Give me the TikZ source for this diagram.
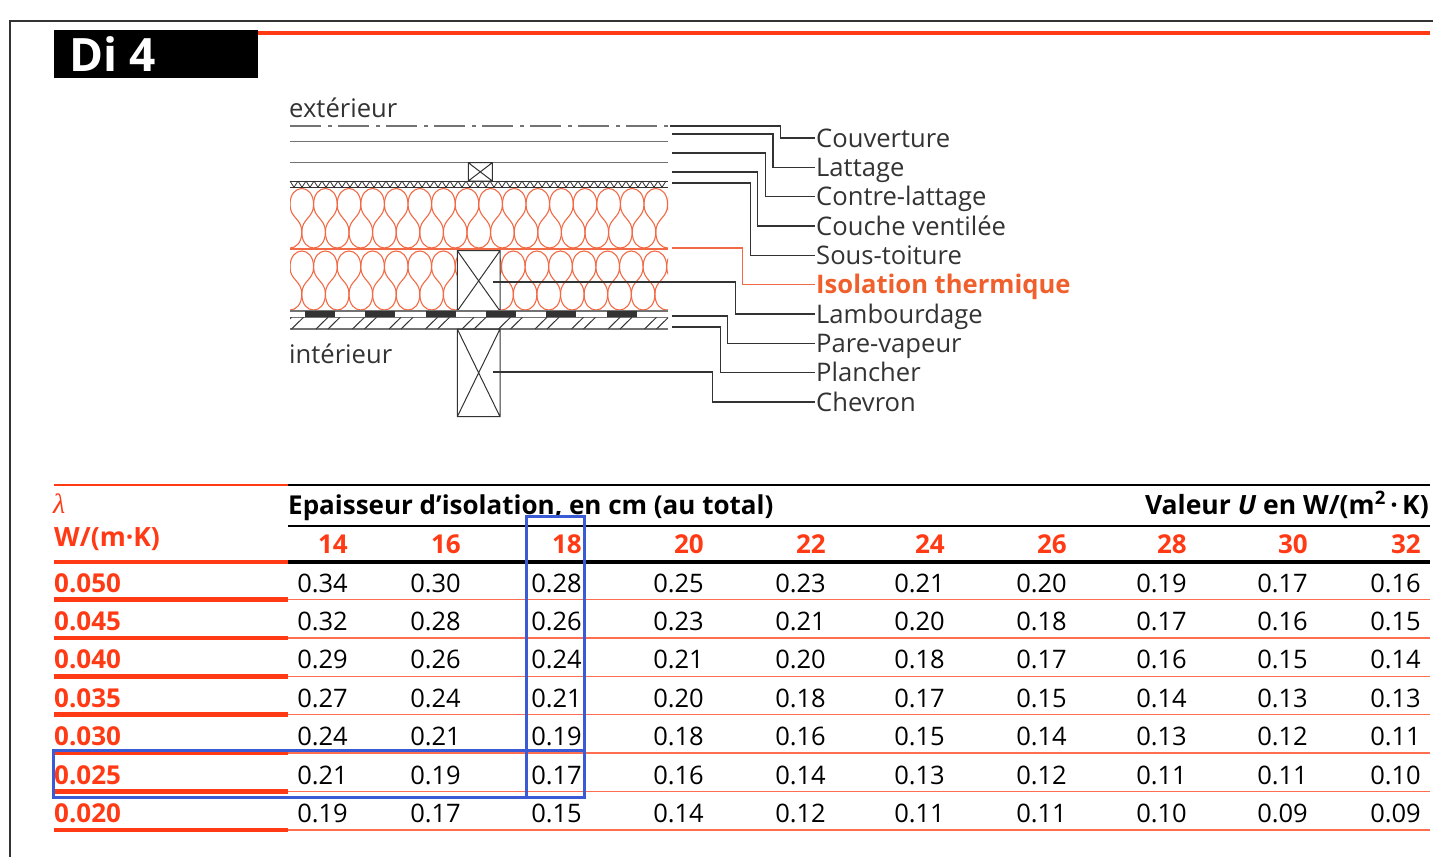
\documentclass[tikz,border=0pt]{standalone}
\usepackage{fontspec}
\setmainfont{Open Sans}
\newfontfamily\lamfont{Liberation Serif}
\usetikzlibrary{positioning}
\definecolor{TableRed}{HTML}{FF3A14}
\definecolor{RowRed}{HTML}{FF6E50}
\definecolor{InsulRed}{HTML}{F26A45}
\definecolor{LabelRed}{HTML}{F0602D}
\definecolor{MarkBlue}{HTML}{3B5BD6}
\definecolor{LineGrey}{HTML}{333333}

\tikzset{
  layer/.style={draw=black!55, line width=1.2pt},
  timber/.style={draw=LineGrey, line width=1pt},
  batt/.style={draw=InsulRed, line width=1.1pt},
  leader/.style={draw=LineGrey, line width=1.1pt},
  lbl/.style={anchor=west, inner sep=1pt, text=LineGrey, text height=23.5pt, text depth=5.2pt,
    font=\fontsize{25.6}{28}\selectfont},
  head/.style={anchor=base east, inner sep=0pt, text=TableRed, font=\bfseries\fontsize{26}{28}\selectfont},
  lamnum/.style={anchor=base west, inner sep=0pt, text=TableRed, font=\bfseries\fontsize{26}{28}\selectfont},
  num/.style={anchor=base east, inner sep=0pt, font=\fontsize{25.5}{28}\selectfont}
}

% timber cross-section with its X
\newcommand{\timberbox}[4]{%
  \draw[timber] (#1,#2) rectangle (#3,#4) (#1,#2) -- (#3,#4) (#1,#4) -- (#3,#2);}

% insulation batt: start x, top, bottom, last lobe
\newcommand{\battlayer}[4]{%
  \pgfmathsetmacro{\bw}{23.6}
  \pgfmathsetmacro{\ry}{16}
  \pgfmathsetmacro{\bm}{(#2+#3)/2}
  \foreach \bk in {-1,...,#4}{
    \pgfmathsetmacro{\bx}{#1+\bk*\bw}
    \draw[batt] (\bx,#2+\ry) .. controls (\bx,#2-\ry/3) and (\bx+\bw,#2-\ry/3) .. (\bx+\bw,#2+\ry)
      .. controls (\bx+\bw,\bm) and (\bx+\bw/2,\bm) .. (\bx+\bw/2,#3-\ry)
      .. controls (\bx+\bw/2,#3+\ry/3) and (\bx+1.5*\bw,#3+\ry/3) .. (\bx+1.5*\bw,#3-\ry)
      .. controls (\bx+1.5*\bw,\bm) and (\bx+\bw,\bm) .. (\bx+\bw,#2+\ry);
  }}

\def\colx{{348,461,582,704,826,945,1067,1187,1308,1421}}

\begin{document}
\begin{tikzpicture}[x=1pt,y=-1pt]
\useasboundingbox (0,0) rectangle (1433,857);

% frame and title
\draw[LineGrey, line width=1.5pt] (10,857) -- (10,21) -- (1433,21);
\node[fill=black, minimum width=204pt, minimum height=48pt, anchor=north west, inner sep=0pt] (titlebox) at (54,30) {};
\node[anchor=base west, inner sep=0pt, text=white, font=\bfseries\fontsize{46}{50}\selectfont] (title) at (69,71) {Di 4};
\draw[TableRed, line width=4pt] (258,33) -- (1430,33);

% --- roof section ---
\node[anchor=base west, inner sep=0pt, text=LineGrey, font=\fontsize{25.6}{28}\selectfont] (ext) at (289,117.5) {extérieur};
\node[anchor=base west, inner sep=0pt, text=LineGrey, font=\fontsize{25.6}{28}\selectfont] (int) at (289,363) {intérieur};

\draw[layer, dash pattern=on 31pt off 7pt on 4pt off 6pt] (290,126) -- (668,126);
\draw[layer] (290,141.7) -- (668,141.7);
\draw[layer] (290,162.7) -- (668,162.7);
\timberbox{468.3}{162.7}{492.3}{181}

% under-roof membrane
\draw[timber] (290,181) -- (668,181) (290,187.3) -- (668,187.3);
\foreach \i in {0,...,46}
  \draw[timber, line width=0.8pt] (290+8*\i,181) -- (294+8*\i,187.3) -- (298+8*\i,181);

% insulation, two layers
\begin{scope}
  \clip (290,187.3) rectangle (668,249);
  \battlayer{290}{188.5}{248}{16}
\end{scope}
\draw[batt] (290,249) -- (668,249);
\begin{scope}
  \clip (290,249) rectangle (457.3,311);
  \battlayer{290}{251}{310}{7}
\end{scope}
\begin{scope}
  \clip (500,249) rectangle (668,311);
  \battlayer{501.5}{251}{310}{7}
\end{scope}
\timberbox{457.3}{250.7}{500}{311}

% vapour barrier and floor boards
\draw[layer] (290,311) -- (668,311) (290,317.3) -- (668,317.3) (290,329) -- (668,329);
\foreach \j in {0,...,5}
  \fill[LineGrey] (305+60.3*\j,311) rectangle ++(30,6.3);
\begin{scope}
  \clip (290,317.3) rectangle (668,329);
  \foreach \j in {-1,...,9}
    \draw[timber] (316+36.5*\j,329) -- ++(12,-11.7) (328+36.5*\j,329) -- ++(12,-11.7);
\end{scope}
\timberbox{457.3}{329}{500}{416.7}

% leader start points
\coordinate (s-cou) at (670,126);
\coordinate (s-lat) at (672,134);
\coordinate (s-con) at (672,153);
\coordinate (s-cve) at (672,172);
\coordinate (s-sou) at (672,183);
\coordinate (s-iso) at (672,248);
\coordinate (s-lam) at (493,282);
\coordinate (s-par) at (672,316);
\coordinate (s-pla) at (672,327);
\coordinate (s-che) at (493,372);

% labels
\node[lbl] (l-cou) at (815,138) {Couverture};
\node[lbl] (l-lat) at (815,167.3) {Lattage};
\node[lbl] (l-con) at (815,196.7) {Contre-lattage};
\node[lbl] (l-cve) at (815,226) {Couche ventilée};
\node[lbl] (l-sou) at (815,255.3) {Sous-toiture};
\node[lbl, text=LabelRed, font=\bfseries\fontsize{25.6}{28}\selectfont] (l-iso) at (815,284.7) {Isolation thermique};
\node[lbl] (l-lam) at (815,314) {Lambourdage};
\node[lbl] (l-par) at (815,343.3) {Pare-vapeur};
\node[lbl] (l-pla) at (815,372.7) {Plancher};
\node[lbl] (l-che) at (815,402) {Chevron};

\foreach \n/\col [count=\i] in {cou/LineGrey,lat/LineGrey,con/LineGrey,cve/LineGrey,sou/LineGrey,
    iso/InsulRed,lam/LineGrey,par/LineGrey,pla/LineGrey,che/LineGrey}{
  \pgfmathsetmacro{\bendx}{780.5-7.55*(\i-1)}
  \draw[leader, draw=\col] (s-\n) -- (\bendx,0 |- s-\n) |- (l-\n.west);
}

% --- table ---
\draw[TableRed, line width=1.5pt] (54,485) -- (288,485);
\draw[black, line width=1.8pt] (288,485) -- (1430,485);
\draw[black, line width=1.3pt] (288,526) -- (1430,526);
\draw[TableRed, line width=4.5pt] (54,562) -- (288,562);
\draw[black, line width=4.5pt] (288,562) -- (1430,562);

\node[anchor=base west, inner sep=0pt, text=TableRed, font=\lamfont\itshape\fontsize{28}{30}\selectfont] (lambda) at (53,513.5) {λ};
\node[anchor=base west, inner sep=0pt, text=TableRed, font=\bfseries\fontsize{26.5}{28}\selectfont] (unit) at (54,546) {W/(m·K)};
\node[anchor=base west, inner sep=0pt, font=\bfseries\fontsize{26}{28}\selectfont] (thick) at (288,514) {Epaisseur d’isolation, en cm (au total)};
\node[anchor=base east, inner sep=0pt, font=\bfseries\fontsize{26.5}{28}\selectfont] (uval) at (1429,514)
  {Valeur \textit{U} en W/(m\textsuperscript{2}\,·\,K)};

\foreach \h [count=\c] in {14,16,...,32}{
  \pgfmathsetmacro{\cx}{\colx[\c-1]}
  \node[head] (h-\h) at (\cx,553.5) {\h};
}

\foreach \r in {0,...,6}{
  \draw[TableRed, line width=4.5pt] (54,599.5+38.4*\r) -- (288,599.5+38.4*\r);
  \draw[RowRed, line width=1.5pt] (288,599.5+38.4*\r) -- (1430,599.5+38.4*\r);
}

\foreach \lam/\vals [count=\r] in {
    0.050/{0.34,0.30,0.28,0.25,0.23,0.21,0.20,0.19,0.17,0.16},
    0.045/{0.32,0.28,0.26,0.23,0.21,0.20,0.18,0.17,0.16,0.15},
    0.040/{0.29,0.26,0.24,0.21,0.20,0.18,0.17,0.16,0.15,0.14},
    0.035/{0.27,0.24,0.21,0.20,0.18,0.17,0.15,0.14,0.13,0.13},
    0.030/{0.24,0.21,0.19,0.18,0.16,0.15,0.14,0.13,0.12,0.11},
    0.025/{0.21,0.19,0.17,0.16,0.14,0.13,0.12,0.11,0.11,0.10},
    0.020/{0.19,0.17,0.15,0.14,0.12,0.11,0.11,0.10,0.09,0.09}}{
  \pgfmathsetmacro{\by}{592+38.4*(\r-1)}
  \node[lamnum] (lam-\r) at (54,\by) {\lam};
  \foreach \v [count=\c] in \vals {
    \pgfmathsetmacro{\cx}{\colx[\c-1]}
    \node[num] (v-\r-\c) at (\cx,\by) {\v};
  }
}

% highlighted column and row
\draw[MarkBlue, line width=3pt] (526.5,516) rectangle (584.5,797.5);
\draw[MarkBlue, line width=3pt] (53.5,750) rectangle (584.5,797.5);
\end{tikzpicture}
\end{document}
